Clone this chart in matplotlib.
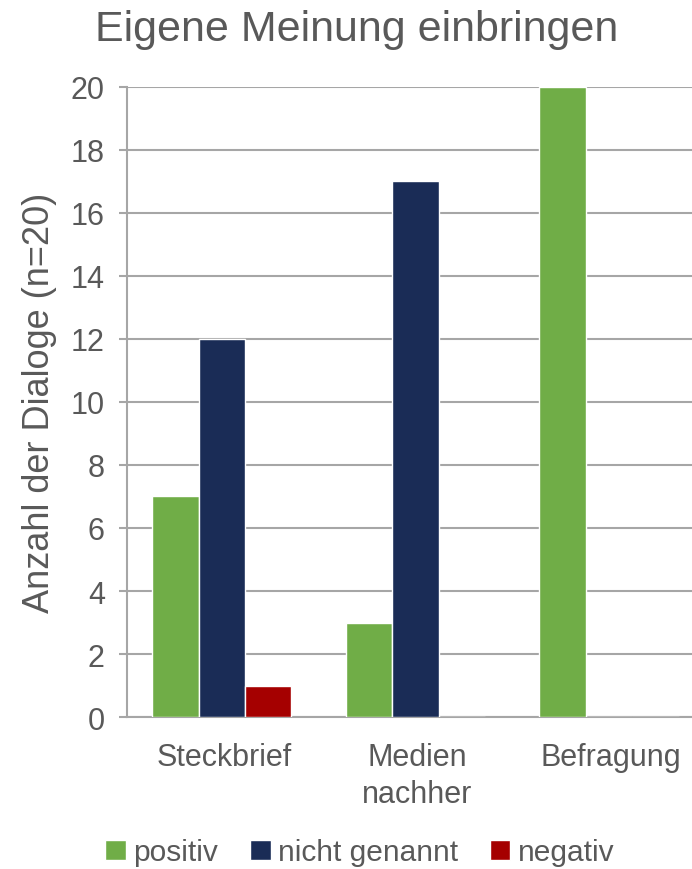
import matplotlib
matplotlib.use("Agg")
import matplotlib.pyplot as plt
import numpy as np

plt.rcParams['font.family'] = ['Liberation Sans', 'DejaVu Sans']

categories = ["Steckbrief", "Medien\nnachher", "Befragung"]
series_names = ["positiv", "nicht genannt", "negativ"]
positiv = [7, 3, 20]
nicht_genannt = [12, 17, 0]
negativ = [1, 0, 0]
colors = ["#70AD47", "#1A2C56", "#A50000"]
text_color = "#595959"

fig = plt.figure(figsize=(6.92, 8.7), dpi=100)
ax = fig.add_axes([0.1835, 0.1747, 0.839, 0.7242])

x = np.arange(len(categories))
width = 0.24
for i, (vals, name, col) in enumerate(zip([positiv, nicht_genannt, negativ], series_names, colors)):
    ax.bar(x + (i - 1) * width - 0.01, vals, width, color=col, edgecolor="white",
           linewidth=1.0, label=name, zorder=3)

ax.set_xlim(-0.5, 2.5)
ax.set_ylim(0, 20)
ax.set_yticks(range(0, 21, 2))
ax.yaxis.grid(True, color="#A6A6A6", linewidth=1.5, zorder=0)
ax.set_axisbelow(True)
for side in ["top", "right"]:
    ax.spines[side].set_visible(False)
ax.spines["left"].set_color("#A6A6A6")
ax.spines["left"].set_linewidth(1.5)
ax.spines["bottom"].set_color("#A6A6A6")
ax.spines["bottom"].set_linewidth(1.5)
ax.tick_params(axis="y", colors="#A6A6A6", labelcolor=text_color, labelsize=22,
               length=6, width=1.5, pad=10)
ax.tick_params(axis="x", length=0, labelcolor=text_color, labelsize=22, pad=18)
ax.set_xticks(x)
ax.set_xticklabels(categories, linespacing=1.3)
ax.set_ylabel("Anzahl der Dialoge (n=20)", fontsize=26, color=text_color, labelpad=10)
fig.text(0.516, 0.965, "Eigene Meinung einbringen", fontsize=31, color=text_color,
         ha="center", va="center")

leg = fig.legend(loc="center", bbox_to_anchor=(0.52, 0.019), ncol=3, frameon=False,
                 fontsize=21.5, handlelength=0.7, handleheight=0.7, handletextpad=0.25,
                 columnspacing=1.05)
for t in leg.get_texts():
    t.set_color(text_color)

fig.savefig("out.png", dpi=100)
